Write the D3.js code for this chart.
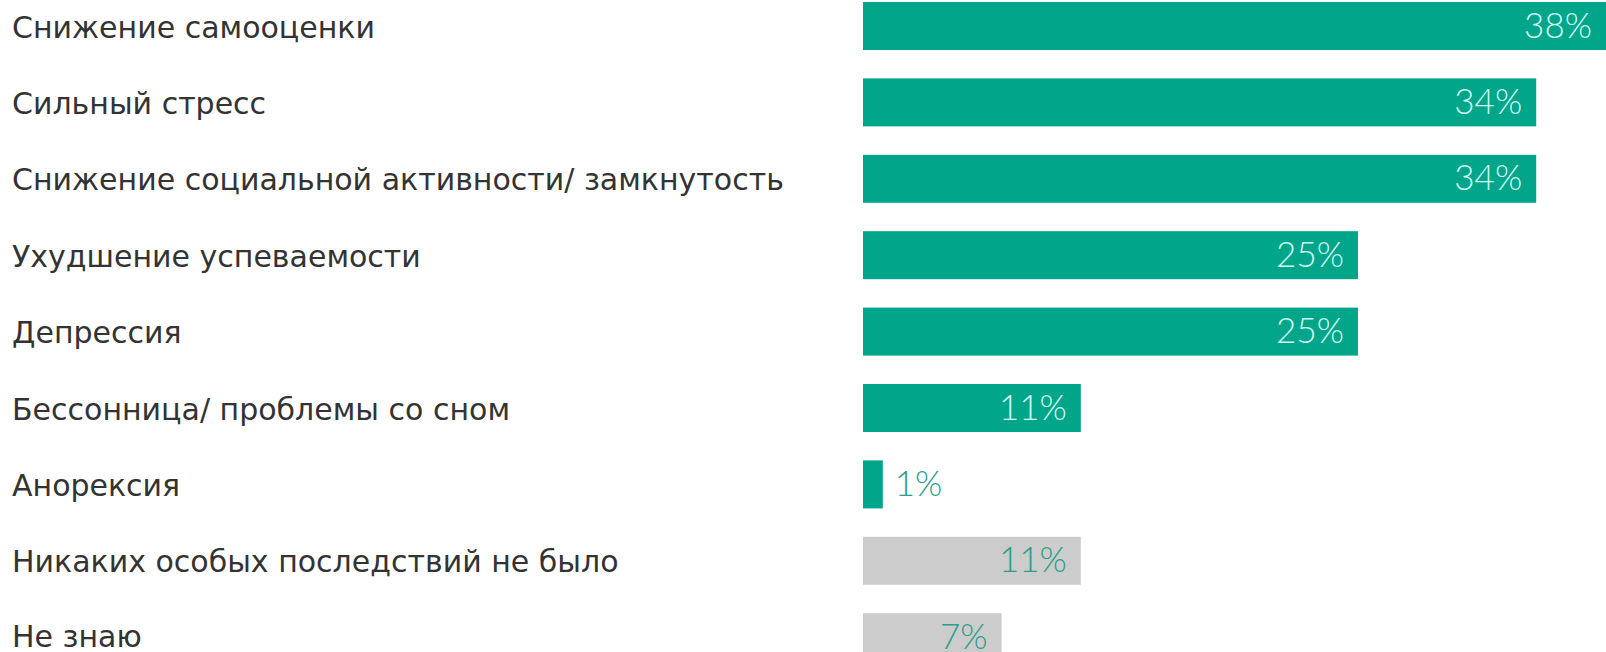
<!DOCTYPE html>
<html><head><meta charset="utf-8">
<script src="https://cdn.jsdelivr.net/npm/d3@7"></script>
<style>html,body{margin:0;padding:0;background:#fff;overflow:hidden}</style>
</head><body>
<svg id="c" width="1606" height="652"></svg>
<script>
const categories = [
  "Снижение самооценки",
  "Сильный стресс",
  "Снижение социальной активности/ замкнутость",
  "Ухудшение успеваемости",
  "Депрессия",
  "Бессонница/ проблемы со сном",
  "Анорексия",
  "Никаких особых последствий не было",
  "Не знаю"
];
const values = [38, 34, 34, 25, 25, 11, 1, 11, 7];
const groups = ["effect","effect","effect","effect","effect","effect","effect","none","none"];
const valueLabels = ["38%","34%","34%","25%","25%","11%","1%","11%","7%"];

const svg = d3.select("#c");
const x = d3.scaleLinear().domain([0, 38]).range([863, 863 + 38 * 19.8]);
const step = 76.4, bh = 48, top0 = 2;
const pi = 1 - bh / step;
const yb = d3.scaleBand().domain(categories)
  .range([top0, top0 + step * (categories.length - pi)])
  .paddingInner(pi).paddingOuter(0).align(0);

const fillFor = g => g === "effect" ? "#00a58a" : "#cccccc";

const rows = svg.selectAll("g.row").data(categories.map((c, i) => ({c, v: values[i], g: groups[i], l: valueLabels[i]})))
  .join("g").attr("class", "row");

rows.append("rect")
  .attr("x", x(0))
  .attr("y", d => yb(d.c))
  .attr("width", d => x(d.v) - x(0))
  .attr("height", yb.bandwidth())
  .attr("fill", d => fillFor(d.g));

rows.append("text")
  .attr("x", 12)
  .attr("y", d => Math.min(yb(d.c) + yb.bandwidth() / 2 + 1, 636))
  .attr("dy", "0.35em")
  .attr("font-family", "'DejaVu Sans', sans-serif")
  .attr("font-size", 30)
  .attr("fill", "#333333")
  .text(d => d.c);

rows.append("text")
  .attr("x", d => d.v < 3 ? x(d.v) + 12 : Math.min(x(d.v), 1606) - 14)
  .attr("y", d => yb(d.c) + yb.bandwidth() / 2 - 1)
  .attr("dy", "0.36em")
  .attr("text-anchor", d => d.v < 3 ? "start" : "end")
  .attr("font-family", "Lato, 'Open Sans', sans-serif")
  .attr("font-weight", 300)
  .attr("font-size", 35)
  .attr("fill", d => (d.g === "effect" && d.v >= 3) ? "#d2fff6" : "#2a9d8b")
  .text(d => d.l);
</script>
</body></html>
